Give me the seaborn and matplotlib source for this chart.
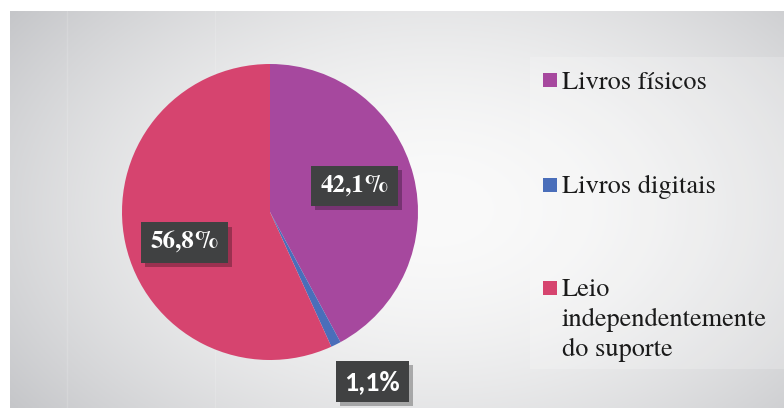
import numpy as np
import matplotlib
matplotlib.use("Agg")
import matplotlib.pyplot as plt
import matplotlib.patheffects as pe
from matplotlib.patches import Rectangle
from matplotlib.font_manager import FontProperties
import seaborn as sns

categories = ["Livros físicos", "Livros digitais", "Leio\nindependentemente\ndo suporte"]
values = [42.1, 1.1, 56.8]
value_labels = ["42,1%", "1,1%", "56,8%"]
colors = ["#A6489E", "#4A6EBA", "#D6446F"]

sns.set_theme(style="white")
plt.rcParams["font.family"] = ["TeX Gyre Termes", "DejaVu Serif"]

serif = FontProperties(family="TeX Gyre Termes", size=19)
serif_bold = FontProperties(family="TeX Gyre Termes", size=18, weight="bold")
sans_bold = FontProperties(family="Carlito", size=20, weight="bold")

W, H = 784, 408
fig = plt.figure(figsize=(W / 100, H / 100), dpi=100)
fig.patch.set_facecolor("white")


def fx(px):
    return px / W


def fy(py):
    return 1 - py / H


# soft radial gradient panel behind the chart
bg = fig.add_axes([fx(10), 0, fx(774), 397 / H])
bg.set_axis_off()
xx, yy = np.meshgrid(np.linspace(0, 1, 400), np.linspace(0, 1, 220))
d = np.sqrt(((xx - 0.55) / 0.68) ** 2 + ((yy - 0.50) / 0.85) ** 2)
t = np.clip(d, 0, 1) ** 1.8
light = np.array([250, 250, 250]) / 255
dark = np.array([197, 198, 201]) / 255
img = light[None, None, :] * (1 - t[..., None]) + dark[None, None, :] * t[..., None]
bg.imshow(img, aspect="auto", extent=(0, 1, 0, 1), origin="upper")
bg.set_xlim(0, 1)
bg.set_ylim(0, 1)
for xl in (67, 215):
    bg.axvline((xl - 10) / 774, color="white", alpha=0.15, lw=1)
# lighter frame around the legend block
bg.add_patch(Rectangle(((530 - 10) / 774, 1 - (369 - 11) / 397), (784 - 530) / 774,
                       (369 - 57) / 397, facecolor="white", alpha=0.2, lw=0))

# pie
cx, cy, r = 270, 212, 148
ax = fig.add_axes([fx(cx - r), fy(cy + r), fx(2 * r), 2 * r / H])
wedges, _ = ax.pie(values, colors=colors, startangle=90, counterclock=False,
                   radius=1, wedgeprops=dict(linewidth=0))
ax.set_xlim(-1, 1)
ax.set_ylim(-1, 1)
ax.set_axis_off()

label_radius = [0.59, 1.28, 0.59]
label_shift = [(0, 5), (18, 0), (0, -12)]
label_fonts = [serif_bold, sans_bold, serif_bold]
label_pads = [0.36, 0.3, 0.36]
for w, lab, rr, sh, fp, pad in zip(wedges, value_labels, label_radius, label_shift,
                                   label_fonts, label_pads):
    ang = np.deg2rad((w.theta1 + w.theta2) / 2)
    pos = (rr * np.cos(ang), rr * np.sin(ang))
    ann = ax.annotate(lab, xy=pos, xytext=sh, textcoords="offset pixels",
                      ha="center", va="center", color="white", fontproperties=fp,
                      bbox=dict(boxstyle=f"square,pad={pad}", fc="#404142", lw=0),
                      annotation_clip=False)
    # drop shadow under the label box
    ann.get_bbox_patch().set_path_effects([
        pe.SimplePatchShadow(offset=(3, -3), shadow_rgbFace="black", alpha=0.28),
        pe.Normal(),
    ])

# legend
sq = 14
legend_rows = [(80, 89), (185, 193), (288, 296)]
for (sqc, base), cat, col in zip(legend_rows, categories, colors):
    fig.patches.append(Rectangle((fx(543), fy(sqc + sq / 2)), fx(sq), sq / H,
                                 transform=fig.transFigure, facecolor=col, lw=0))
    for i, line in enumerate(cat.split("\n")):
        fig.text(fx(562), fy(base + 30 * i), line, ha="left", va="baseline",
                 fontproperties=serif, color="#1a1a1a")

fig.savefig("out.png", dpi=100)
